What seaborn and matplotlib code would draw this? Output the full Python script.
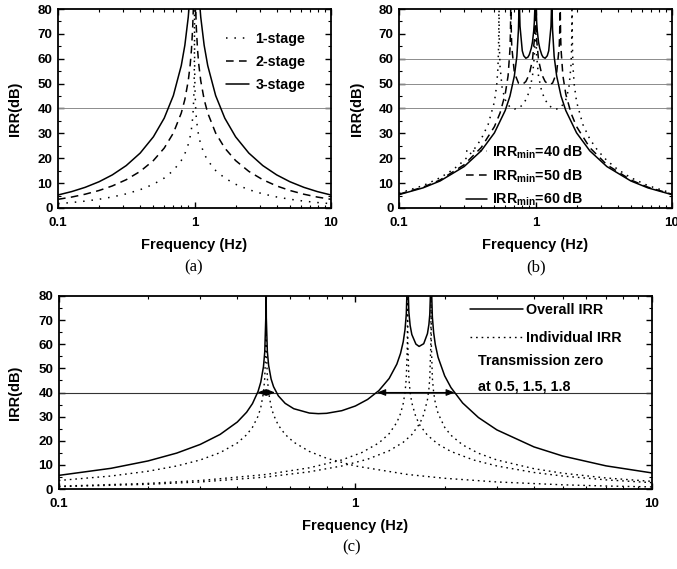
import matplotlib
matplotlib.use("Agg")
import matplotlib.pyplot as plt
import seaborn as sns
from matplotlib.ticker import LogLocator, MultipleLocator, NullFormatter

# ── Panel (a): 1/2/3-stage IRR, all zeros at 1 Hz ───────────────────────────
FREQ_A = [0.1, 0.126, 0.158, 0.2, 0.25, 0.316, 0.4, 0.5, 0.6, 0.7, 0.8, 0.85,
          0.9, 0.93, 0.95, 0.97, 0.98, 0.99, 0.995, 0.998, 0.999, 0.9998,
          1.0002, 1.001, 1.002, 1.005, 1.0101, 1.0204, 1.0309, 1.0526, 1.0753,
          1.1111, 1.1765, 1.25, 1.4286, 1.6667, 2.0, 2.5, 3.165, 4.0, 5.0,
          6.329, 7.937, 10.0]
IRR_1STAGE = [1.74, 2.20, 2.77, 3.52, 4.44, 5.68, 7.36, 9.54, 12.04, 15.07, 19.08,
              21.82, 25.58, 28.81, 31.82, 36.35, 39.91, 45.98, 52.02, 59.99, 66.02,
              80.0, 80.0, 66.02, 59.99, 52.02, 45.98, 39.91, 36.35, 31.82, 28.81,
              25.58, 21.82, 19.08, 15.07, 12.04, 9.54, 7.36, 5.68, 4.44, 3.52,
              2.77, 2.20, 1.74]
IRR_2STAGE = [3.49, 4.40, 5.54, 7.04, 8.87, 11.37, 14.72, 19.08, 24.08, 30.13, 38.17,
              43.64, 51.15, 57.62, 63.64, 72.69, 79.83, 91.95, 104.04, 119.98, 132.05,
              160.0, 160.0, 132.05, 119.98, 104.04, 91.95, 79.83, 72.69, 63.64, 57.62,
              51.15, 43.64, 38.17, 30.13, 24.08, 19.08, 14.72, 11.37, 8.87, 7.04,
              5.54, 4.40, 3.49]
IRR_3STAGE = [5.23, 6.60, 8.30, 10.56, 13.31, 17.05, 22.08, 28.63, 36.12, 45.20, 57.25,
              65.46, 76.73, 86.43, 95.46, 109.04, 119.74, 137.93, 156.06, 179.97, 198.07,
              240.0, 240.0, 198.07, 179.97, 156.06, 137.93, 119.74, 109.04, 95.46, 86.43,
              76.73, 65.46, 57.25, 45.20, 36.12, 28.63, 22.08, 17.05, 13.31, 10.56,
              8.30, 6.60, 5.23]
STAGE_LABELS = ["1-stage", "2-stage", "3-stage"]
REF_A = [40]

# ── Panel (b): 3-stage with spread zeros, IRRmin = 40 / 50 / 60 dB ──────────
FREQ_B40 = [0.1, 0.15, 0.2, 0.25, 0.3, 0.35, 0.4, 0.45, 0.5, 0.52, 0.53, 0.535, 0.538,
            0.5395, 0.5405, 0.542, 0.545, 0.55, 0.57, 0.6, 0.65, 0.7, 0.75, 0.8, 0.85,
            0.9, 0.95, 0.98, 0.99, 0.995, 0.999,
            1.001, 1.005, 1.0101, 1.0204, 1.0526, 1.1111, 1.1765, 1.25, 1.3333, 1.4286,
            1.5385, 1.6667, 1.7544, 1.8182, 1.8349, 1.845, 1.8501, 1.8536, 1.8587,
            1.8692, 1.8868, 1.9231, 2.0, 2.2222, 2.5, 2.8571, 3.3333, 4.0, 5.0,
            6.6667, 10.0]
IRR_B40 = [5.94, 8.99, 12.16, 15.5, 19.1, 23.1, 27.7, 33.6, 42.65, 49.5, 55.8, 62.2, 70.3,
           82.3, 82.4, 70.4, 62.6, 56.8, 48.1, 43.5, 40.5, 39.8, 40.1, 41.35, 43.5,
           46.8, 52.9, 60.9, 66.97, 73.0, 87.0,
           87.0, 73.0, 66.97, 60.9, 52.9, 46.8, 43.5, 41.35, 40.1, 39.8,
           40.5, 43.5, 48.1, 56.8, 62.6, 70.4, 82.4, 82.3, 70.3,
           62.2, 55.8, 49.5, 42.65, 33.6, 27.7, 23.1, 19.1, 15.5, 12.16,
           8.99, 5.94]
FREQ_B50 = [0.1, 0.15, 0.2, 0.3, 0.4, 0.5, 0.55, 0.6, 0.63, 0.65, 0.655, 0.658, 0.6595,
            0.662, 0.665, 0.67, 0.7, 0.75, 0.8, 0.85, 0.9, 0.95, 0.98, 0.99, 0.995, 0.999,
            1.001, 1.005, 1.0101, 1.0204, 1.0526, 1.1111, 1.1765, 1.25, 1.3333, 1.4286,
            1.4925, 1.5038, 1.5106, 1.5163, 1.5198, 1.5267, 1.5385, 1.5873, 1.6667,
            1.8182, 2.0, 2.5, 3.3333, 5.0, 6.6667, 10.0]
IRR_B50 = [5.54, 8.37, 11.26, 17.38, 24.27, 32.7, 38.2, 45.8, 53.2, 63.8, 70.1, 78.2, 90.3,
           78.4, 70.6, 64.8, 54.4, 50.2, 49.6, 50.85, 53.7, 59.5, 67.5, 73.5, 79.6, 93.6,
           93.6, 79.6, 73.5, 67.5, 59.5, 53.7, 50.85, 49.6, 50.2, 54.4,
           64.8, 70.6, 78.4, 90.3, 78.2, 70.1, 63.8, 53.2, 45.8,
           38.2, 32.7, 24.27, 17.38, 11.26, 8.37, 5.54]
FREQ_B60 = [0.1, 0.15, 0.2, 0.3, 0.4, 0.5, 0.6, 0.65, 0.7, 0.73, 0.75, 0.755, 0.758,
            0.7595, 0.762, 0.765, 0.77, 0.8, 0.82, 0.85, 0.88, 0.9, 0.93, 0.95, 0.97,
            0.98, 0.99, 0.995, 0.999,
            1.001, 1.005, 1.0101, 1.0204, 1.0309, 1.0526, 1.0753, 1.1111, 1.1364, 1.1765,
            1.2195, 1.25, 1.2987, 1.3072, 1.3123, 1.3167, 1.3193, 1.3245, 1.3333, 1.3699,
            1.4286, 1.5385, 1.6667, 2.0, 2.5, 3.3333, 5.0, 6.6667, 10.0]
IRR_B60 = [5.37, 8.09, 10.86, 16.66, 22.98, 30.2, 39.2, 45.0, 53.1, 60.9, 71.7, 78.1, 86.2,
           98.3, 86.5, 78.75, 73.1, 63.2, 61.2, 60.2, 60.65, 61.6, 64.1, 66.7, 71.1,
           74.6, 80.6, 86.6, 100.6,
           100.6, 86.6, 80.6, 74.6, 71.1, 66.7, 64.1, 61.6, 60.65, 60.2,
           61.2, 63.2, 73.1, 78.75, 86.5, 98.3, 86.2, 78.1, 71.7, 60.9,
           53.1, 45.0, 39.2, 30.2, 22.98, 16.66, 10.86, 8.09, 5.37]
MIN_LABELS = [r"IRR$_{\mathbf{min}}$=40 dB", r"IRR$_{\mathbf{min}}$=50 dB",
              r"IRR$_{\mathbf{min}}$=60 dB"]
REF_B = [40, 50, 60]

# ── Panel (c): overall vs individual IRR, zeros at 0.5, 1.5, 1.8 Hz ─────────
FREQ_C = [0.1, 0.15, 0.2, 0.25, 0.3, 0.35, 0.4, 0.43, 0.45, 0.47, 0.48, 0.49, 0.495,
          0.499, 0.4999, 0.5001, 0.501, 0.505, 0.51, 0.52, 0.53, 0.55, 0.58, 0.62, 0.7,
          0.75, 0.8, 0.9, 1.0, 1.1, 1.2, 1.3, 1.38, 1.42, 1.45, 1.47, 1.485, 1.497,
          1.4997, 1.5003, 1.503, 1.515, 1.53, 1.55, 1.6, 1.64, 1.7, 1.75, 1.77, 1.782,
          1.7964, 1.7996, 1.8004, 1.8036, 1.818, 1.836, 1.86, 1.9, 2.0, 2.1, 2.3, 2.6,
          3.0, 4.0, 5.0, 7.0, 10.0]
IRR_OVERALL = [5.64, 8.57, 11.63, 14.89, 18.48, 22.62, 27.76, 31.82, 35.40, 40.46, 44.31,
               50.65, 56.83, 70.95, 91.0, 91.0, 71.0, 57.1, 51.3, 45.59, 42.4, 38.61,
               35.5, 33.28, 31.48, 31.23, 31.37, 32.46, 34.4, 37.13, 40.77, 45.81, 51.77,
               56.21, 61.03, 65.99, 72.44, 86.8, 106.8, 106.8, 86.96, 73.28, 67.8, 64.05,
               60.06, 59.1, 60.22, 64.41, 68.22, 72.31, 85.89, 105.0, 105.0, 85.7, 71.3,
               64.87, 59.89, 54.64, 46.92, 42.06, 35.65, 29.62, 24.50, 17.45, 13.67,
               9.59, 6.66]
FREQ_Z1 = [0.1, 0.15, 0.2, 0.25, 0.3, 0.35, 0.4, 0.43, 0.45, 0.47, 0.48, 0.49, 0.495,
           0.499, 0.4999, 0.5001, 0.501, 0.505, 0.51, 0.52, 0.53, 0.55, 0.58, 0.62, 0.7,
           0.8, 1.0, 1.5, 2.0, 3.0, 5.0, 7.0, 10.0]
IRR_Z1 = [3.52, 5.38, 7.36, 9.54, 12.04, 15.07, 19.08, 22.47, 25.58, 30.19, 33.80, 39.91,
          45.98, 59.99, 80.0, 80.0, 60.0, 46.0, 40.09, 34.14, 30.72, 26.44, 22.61, 19.40,
          15.56, 12.74, 9.54, 6.02, 4.44, 2.92, 1.74, 1.24, 0.87]
FREQ_Z2 = [0.1, 0.2, 0.3, 0.5, 0.7, 0.9, 1.05, 1.2, 1.3, 1.38, 1.42, 1.45, 1.47, 1.485,
           1.497, 1.4997, 1.5003, 1.503, 1.515, 1.53, 1.55, 1.6, 1.65, 1.75, 1.9, 2.1,
           2.5, 3.0, 4.0, 5.0, 7.0, 10.0]
IRR_Z2 = [1.16, 2.33, 3.52, 6.02, 8.79, 12.04, 15.07, 19.08, 22.92, 27.60, 31.25, 35.42,
          39.91, 45.98, 59.99, 80.0, 80.0, 60.0, 46.0, 40.09, 35.70, 29.83, 26.44, 22.28,
          18.59, 15.56, 12.04, 9.54, 6.85, 5.38, 3.78, 2.63]
FREQ_Z3 = [0.1, 0.2, 0.3, 0.5, 0.7, 0.9, 1.1, 1.3, 1.45, 1.55, 1.65, 1.7, 1.75, 1.77,
           1.782, 1.7964, 1.7996, 1.8004, 1.8036, 1.818, 1.836, 1.86, 1.9, 2.0, 2.1, 2.3,
           2.6, 3.0, 4.0, 5.0, 7.0, 10.0]
IRR_Z3 = [0.97, 1.94, 2.92, 4.96, 7.13, 9.54, 12.35, 15.85, 19.36, 22.54, 27.23, 30.87,
          37.02, 41.50, 45.98, 59.99, 79.2, 79.2, 60.0, 46.0, 40.09, 35.70, 31.37, 25.58,
          22.28, 18.28, 14.81, 12.04, 8.42, 6.55, 4.57, 3.16]
REF_C = 40
BANDWIDTH_SPANS = [(0.468, 0.536), (1.185, 2.16)]
C_LABELS = ["Overall IRR", "Individual IRR"]
C_NOTE = ["Transmission zero", "at 0.5, 1.5, 1.8"]

X_TICKS = [0.1, 1, 10]
X_TICK_LABELS = ["0.1", "1", "10"]
Y_TICKS = [0, 10, 20, 30, 40, 50, 60, 70, 80]

# ── Style ────────────────────────────────────────────────────────────────────
sns.set_style("ticks")
plt.rcParams.update({
    "font.family": ["Liberation Sans", "DejaVu Sans"],
    "font.weight": "bold",
    "axes.labelweight": "bold",
    "mathtext.fontset": "custom",
    "mathtext.rm": "Liberation Sans:bold",
    "mathtext.bf": "Liberation Sans:bold",
    "text.color": "black",
    "axes.labelcolor": "black",
    "axes.edgecolor": "black",
    "xtick.color": "black",
    "ytick.color": "black",
})

DOT_A = (0, (1, 4.5))
DASH_A = (0, (5, 3.5))
DOT_B = (0, (1, 3.5))
DOT_C = (0, (1.2, 2.8))
LEG_FONT = {"weight": "bold", "size": 10.3}
W, H = 677, 569


def style_axes(ax, ylab_x, xlab_y):
    ax.set_xscale("log")
    ax.set_xlim(0.1, 10)
    ax.set_ylim(0, 80)
    ax.set_xticks(X_TICKS, labels=X_TICK_LABELS)
    ax.xaxis.set_minor_locator(LogLocator(base=10, subs=range(2, 10)))
    ax.xaxis.set_minor_formatter(NullFormatter())
    ax.set_yticks(Y_TICKS)
    ax.yaxis.set_minor_locator(MultipleLocator(5))
    ax.tick_params(which="both", direction="in", top=True, right=True)
    ax.tick_params(which="major", length=4, width=1.0, labelsize=9.6)
    ax.tick_params(axis="x", which="major", pad=6.5)
    ax.tick_params(axis="y", which="major", pad=4)
    ax.tick_params(which="minor", length=2.5, width=0.8)
    for lab in ax.get_xticklabels() + ax.get_yticklabels():
        lab.set_fontweight("bold")
    for s in ax.spines.values():
        s.set_linewidth(1.3)
        s.set_color("black")
    ax.set_xlabel("Frequency (Hz)", fontsize=10.5, fontweight="bold")
    ax.set_ylabel("IRR(dB)", fontsize=10.5, fontweight="bold")
    ax.yaxis.set_label_coords(ylab_x, 0.5)
    ax.xaxis.set_label_coords(0.5, xlab_y)
    ax.set_facecolor("white")


def px_axes(fig, left, top, right, bottom):
    return fig.add_axes([left / W, 1 - bottom / H, (right - left) / W, (bottom - top) / H])


fig = plt.figure(figsize=(6.77, 5.69), dpi=100)
fig.patch.set_facecolor("white")

# ── (a) ──────────────────────────────────────────────────────────────────────
ax_a = px_axes(fig, 58, 9, 331, 208)
for y in REF_A:
    ax_a.axhline(y, color="#8c8c8c", lw=0.7, zorder=1)
for vals, ls, lab in zip([IRR_1STAGE, IRR_2STAGE, IRR_3STAGE], [DOT_A, DASH_A, "-"],
                         STAGE_LABELS):
    sns.lineplot(x=FREQ_A, y=vals, ax=ax_a, color="black", lw=1.1, linestyle=ls,
                 label=lab, sort=False)
style_axes(ax_a, -0.132, -0.15)
ax_a.legend(loc="upper left", bbox_to_anchor=(0.615, 0.885), frameon=False, prop=LEG_FONT,
            handlelength=1.6, handletextpad=0.45, labelspacing=0.62, borderpad=0,
            borderaxespad=0)

# ── (b) ──────────────────────────────────────────────────────────────────────
ax_b = px_axes(fig, 399, 9, 672, 208)
for y in REF_B:
    ax_b.axhline(y, color="#8c8c8c", lw=0.7, zorder=1)
for fq, vals, ls, lab in zip([FREQ_B40, FREQ_B50, FREQ_B60], [IRR_B40, IRR_B50, IRR_B60],
                             [DOT_B, DASH_A, "-"], MIN_LABELS):
    sns.lineplot(x=fq, y=vals, ax=ax_b, color="black", lw=1.1, linestyle=ls,
                 label=lab, sort=False)
style_axes(ax_b, -0.128, -0.15)
ax_b.legend(loc="upper left", bbox_to_anchor=(0.245, 0.325), frameon=False, prop=LEG_FONT,
            handlelength=1.5, handletextpad=0.35, labelspacing=0.45, borderpad=0,
            borderaxespad=0)

# ── (c) ──────────────────────────────────────────────────────────────────────
ax_c = px_axes(fig, 58.7, 296, 652, 489)
ax_c.axhline(REF_C, color="#333333", lw=0.8, zorder=1)
sns.lineplot(x=FREQ_C, y=IRR_OVERALL, ax=ax_c, color="black", lw=1.1, linestyle="-",
             label=C_LABELS[0], sort=False)
for k, (fq, vals) in enumerate(zip([FREQ_Z1, FREQ_Z2, FREQ_Z3], [IRR_Z1, IRR_Z2, IRR_Z3])):
    sns.lineplot(x=fq, y=vals, ax=ax_c, color="black", lw=1.0, linestyle=DOT_C,
                 label=C_LABELS[1] if k == 0 else None, sort=False)
for x0, x1 in BANDWIDTH_SPANS:
    ax_c.annotate("", xy=(x0, REF_C), xytext=(x1, REF_C),
                  arrowprops=dict(arrowstyle="<|-|>,head_length=0.5,head_width=0.2",
                                  color="black", lw=0.8, shrinkA=0, shrinkB=0))
style_axes(ax_c, -0.062, -0.155)
ax_c.legend(loc="upper left", bbox_to_anchor=(0.693, 0.965), frameon=False, prop=LEG_FONT,
            handlelength=3.7, handletextpad=0.25, labelspacing=1.0, borderpad=0,
            borderaxespad=0)
for i, line in enumerate(C_NOTE):
    ax_c.text(0.707, 0.663 - 0.13 * i, line, transform=ax_c.transAxes, ha="left",
              va="center", fontsize=10.3, fontweight="bold")

# ── Captions ─────────────────────────────────────────────────────────────────
for lab, cx, cy in [("(a)", 194, 267), ("(b)", 536, 267), ("(c)", 352, 547)]:
    fig.text(cx / W, 1 - cy / H, lab, ha="center", va="center", fontsize=12,
             family="Liberation Serif", fontweight="normal")

fig.savefig("out.png", dpi=100, facecolor="white")
plt.close(fig)
